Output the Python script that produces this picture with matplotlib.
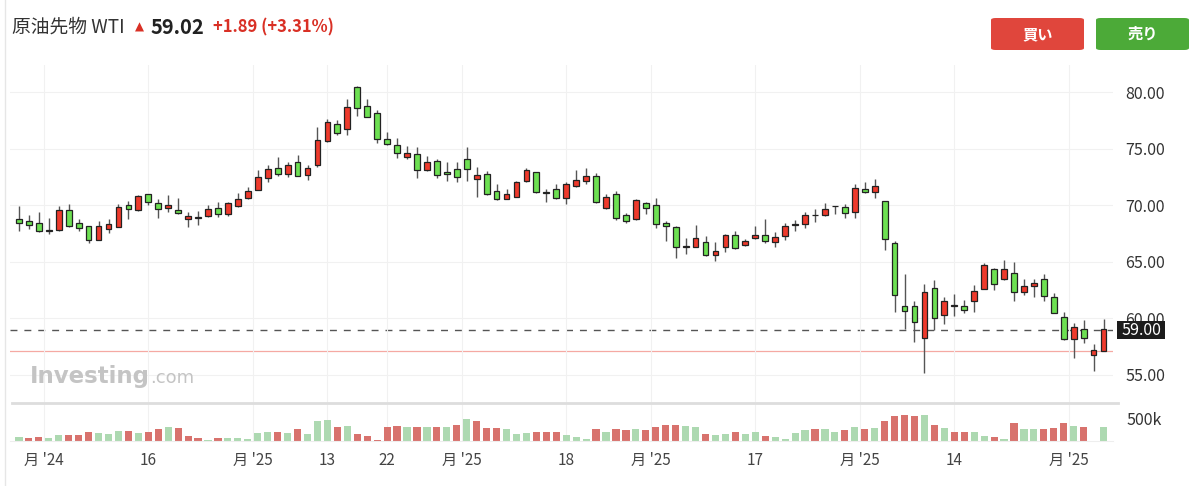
import numpy as np
import matplotlib
matplotlib.use("Agg")
import matplotlib.pyplot as plt
from matplotlib.patches import FancyBboxPatch, Rectangle

plt.rcParams['font.family'] = ['Noto Sans CJK JP', 'DejaVu Sans']

#=== Daten (Tageskerzen WTI) ===
opens = [68.76, 68.58, 68.46, 67.80, 67.82, 69.59, 68.44, 68.14, 66.93, 67.90,
         68.11, 70.00, 69.59, 71.03, 70.18, 69.73, 69.59, 68.79, 68.90, 69.03,
         69.79, 69.20, 69.94, 70.65, 71.39, 72.45, 73.27, 72.74, 73.80, 72.65,
         73.56, 75.66, 77.22, 76.78, 80.44, 78.75, 78.16, 75.86, 75.33, 74.30,
         74.51, 73.15, 73.95, 72.97, 73.18, 74.12, 72.32, 72.77, 71.23, 70.58,
         70.76, 72.15, 72.97, 71.12, 71.47, 70.67, 71.73, 72.15, 72.59, 69.73,
         70.97, 69.17, 68.76, 70.23, 70.00, 68.43, 68.11, 66.32, 66.34, 66.78,
         65.60, 66.34, 67.37, 66.46, 67.08, 67.37, 66.75, 67.28, 68.30, 68.32,
         69.13, 69.14, 69.92, 69.88, 69.44, 71.41, 71.21, 70.38, 66.63, 61.09,
         61.06, 58.28, 62.71, 60.26, 61.10, 61.09, 61.56, 62.62, 64.33, 63.44,
         63.98, 62.29, 62.85, 63.50, 61.91, 60.14, 58.16, 59.02, 56.72, 57.13]
highs = [69.94, 69.11, 69.41, 68.88, 69.94, 70.12, 68.76, 68.14, 68.64, 68.76,
         70.12, 70.35, 70.94, 71.03, 70.53, 70.88, 70.65, 69.41, 69.50, 70.00,
         70.32, 70.32, 71.06, 71.59, 73.13, 73.57, 74.25, 73.83, 74.42, 73.59,
         76.90, 77.63, 77.52, 79.40, 80.55, 79.40, 78.46, 76.51, 75.98, 75.27,
         75.16, 74.33, 74.12, 73.80, 73.80, 75.16, 73.36, 73.00, 71.85, 71.47,
         72.18, 73.30, 72.97, 71.47, 71.85, 72.03, 73.12, 73.30, 72.83, 71.00,
         71.27, 69.29, 70.53, 70.32, 70.65, 68.61, 68.17, 67.08, 68.26, 67.28,
         66.78, 67.46, 67.76, 66.99, 68.14, 68.76, 67.64, 68.43, 68.70, 69.41,
         69.64, 70.23, 69.97, 70.09, 71.86, 72.03, 72.30, 70.38, 66.87, 63.89,
         61.53, 63.00, 63.36, 61.88, 62.15, 61.59, 62.95, 64.92, 64.42, 65.16,
         64.98, 63.44, 63.44, 63.92, 62.21, 60.52, 59.61, 59.87, 57.72, 59.90]
lows = [67.76, 67.87, 67.64, 67.46, 67.76, 68.11, 67.76, 66.69, 66.93, 67.58,
        68.11, 68.82, 69.53, 70.00, 68.88, 69.41, 69.23, 68.11, 68.26, 68.94,
        69.00, 69.08, 69.82, 70.59, 71.33, 72.06, 72.62, 72.51, 72.56, 72.24,
        73.36, 75.60, 76.25, 76.22, 77.90, 77.78, 75.51, 75.36, 74.15, 74.06,
        72.38, 73.06, 72.38, 72.12, 72.03, 72.12, 70.76, 70.94, 70.47, 70.52,
        70.70, 72.06, 71.11, 70.26, 70.58, 70.14, 71.65, 71.88, 70.23, 69.67,
        68.70, 68.41, 68.70, 69.23, 68.02, 66.84, 65.31, 65.69, 66.28, 65.51,
        65.10, 65.90, 66.10, 66.37, 66.99, 66.64, 66.34, 66.93, 67.76, 67.96,
        68.55, 69.05, 69.23, 68.91, 68.91, 71.12, 70.68, 66.01, 60.53, 59.02,
        57.93, 55.13, 58.96, 59.49, 60.20, 60.44, 60.53, 62.56, 62.50, 63.39,
        61.56, 62.09, 61.91, 61.56, 60.43, 58.08, 56.51, 57.84, 55.36, 57.13]
closes = [68.41, 68.29, 67.70, 67.76, 69.59, 68.20, 67.99, 66.93, 68.14, 68.35,
          69.88, 69.64, 70.82, 70.26, 69.64, 70.00, 69.32, 69.08, 68.92, 69.67,
          69.20, 70.21, 70.53, 71.24, 72.48, 73.21, 72.80, 73.60, 72.62, 73.30,
          75.78, 77.34, 76.37, 78.67, 78.64, 77.84, 75.86, 75.45, 74.62, 74.66,
          73.15, 73.80, 72.65, 72.77, 72.53, 73.18, 72.65, 71.00, 70.58, 71.00,
          72.06, 73.12, 71.17, 71.10, 70.67, 71.85, 72.26, 72.56, 70.32, 70.71,
          68.91, 68.61, 70.44, 69.73, 68.32, 68.20, 66.34, 66.36, 67.08, 65.60,
          65.96, 67.37, 66.19, 66.87, 67.40, 66.87, 67.20, 68.20, 68.32, 69.14,
          69.10, 69.64, 69.95, 69.35, 71.53, 71.21, 71.74, 66.99, 62.03, 60.64,
          59.64, 62.36, 60.00, 61.50, 61.14, 60.76, 62.44, 64.71, 63.03, 64.33,
          62.29, 62.85, 63.09, 62.00, 60.49, 58.16, 59.20, 58.28, 57.19, 59.02]
# Volumen in Tausend
volumen = [98, 75, 98, 75, 128, 128, 128, 210, 180, 150,
           233, 233, 180, 210, 263, 308, 285, 105, 75, 23,
           75, 75, 75, 45, 180, 210, 210, 180, 263, 150,
           443, 473, 308, 338, 158, 105, 30, 308, 338, 308,
           308, 308, 308, 308, 360, 495, 443, 285, 285, 263,
           150, 180, 210, 210, 210, 135, 83, 38, 270, 210,
           270, 240, 270, 240, 315, 368, 368, 338, 315, 158,
           135, 158, 210, 158, 210, 105, 83, 38, 180, 240,
           263, 263, 210, 240, 315, 263, 293, 450, 548, 578,
           548, 570, 368, 285, 210, 210, 210, 105, 83, 38,
           398, 263, 263, 263, 293, 398, 345, 315, 0, 315]

tick_pos = [2.5, 13, 23.5, 31, 37, 44.5, 55, 63.5, 74, 84.5, 94, 105.5]
tick_labels = ["月 '24", "16", "月 '25", "13", "22", "月 '25", "18",
               "月 '25", "17", "月 '25", "14", "月 '25"]
preis_ticks = [55, 60, 65, 70, 75, 80]

titel = "原油先物 WTI"
kurs = "59.02"
aenderung = "+1.89 (+3.31%)"
aktuell = 59.00
vortag = 57.13

#=== Figur ===
W, H = 1200, 486
fig = plt.figure(figsize=(W / 100, H / 100), dpi=100)
fig.patch.set_facecolor("white")

def rect(x0, y0, x1, y1):
    return [x0 / W, 1 - y1 / H, (x1 - x0) / W, (y1 - y0) / H]

ax = fig.add_axes(rect(10, 65, 1113, 403))
axv = fig.add_axes(rect(10, 404, 1113, 441), sharex=ax)

n = len(closes)
x = np.arange(n)
o = np.array(opens); c = np.array(closes)
hi = np.array(highs); lo = np.array(lows)

rot = "#ee3a2c"
gruen = "#6de052"
farben = np.where(c >= o, rot, gruen)

ax.vlines(x, lo, hi, color="#555555", lw=1.0, zorder=2)
koerper = np.maximum(np.abs(c - o), 0.04)
ax.bar(x, koerper, bottom=np.minimum(o, c), width=0.58, color=farben,
       edgecolor="#222222", linewidth=0.9, zorder=3)

ax.axhline(aktuell, color="#555555", lw=1.0, ls=(0, (5, 5)), zorder=1)
ax.axhline(vortag, color="#f5a9a3", lw=0.9, zorder=1)

ax.set_xlim(-0.9, 109.95)
ax.set_ylim(52.5, 82.42)
ax.set_yticks(preis_ticks)
ax.set_yticklabels([f"{p:.2f}" for p in preis_ticks])
ax.yaxis.tick_right()
ax.tick_params(axis="y", length=0, pad=9, labelsize=11.5, labelcolor="#333333")
ax.tick_params(axis="x", length=0, labelbottom=False)
ax.set_xticks(tick_pos)
ax.grid(True, color="#f1f1f1", lw=0.8, zorder=0)
for s in ax.spines.values():
    s.set_visible(False)

# Volumen: Farbe nach Schlusskurs gegenueber Vortag
vol_farben = ["#add9b1"]
for i in range(1, n):
    vol_farben.append("#add9b1" if closes[i] >= closes[i - 1] else "#d8726d")
axv.bar(x, volumen, width=0.72, color=vol_farben, zorder=2)
axv.set_ylim(0, 826)
axv.set_yticks([500])
axv.set_yticklabels(["500k"])
axv.yaxis.tick_right()
axv.tick_params(axis="y", length=0, pad=10, labelsize=11.5, labelcolor="#333333")
axv.set_xticks(tick_pos)
axv.set_xticklabels(tick_labels)
axv.tick_params(axis="x", length=0, pad=8, labelsize=11, labelcolor="#444444")
axv.grid(True, axis="x", color="#f1f1f1", lw=0.8, zorder=0)
for s in axv.spines.values():
    s.set_visible(False)
axv.spines["bottom"].set_visible(True)
axv.spines["bottom"].set_color("#eeeeee")

# Trennlinie zwischen Preis und Volumen
fig.add_artist(plt.Line2D([12 / W, 1118 / W], [1 - 403 / H, 1 - 403 / H],
                          color="#dddddd", lw=2.0))
# linker Rand
fig.add_artist(plt.Line2D([4.5 / W, 4.5 / W], [0, 1], color="#e6e6e6", lw=1.0))

# aktueller Kurs Label
fig.add_artist(Rectangle((1117 / W, 1 - 339 / H), 48 / W, 18 / H,
                         facecolor="#1c1c1c", edgecolor="none"))
fig.text(1141 / W, 1 - 330 / H, f"{aktuell:.2f}", color="white", fontsize=11.5,
         ha="center", va="center")

# Wasserzeichen
fig.text(30 / W, 1 - 376 / H, "Investing", color="#c4c4c4", fontsize=16.5,
         fontweight="bold", family="DejaVu Sans", va="center")
fig.text(150 / W, 1 - 378 / H, ".com", color="#c4c4c4", fontsize=13,
         family="DejaVu Sans", va="center")

#=== Kopfzeile ===
fig.text(12 / W, 1 - 27 / H, titel, fontsize=13.5, color="#333333", va="center")
fig.text(135 / W, 1 - 27 / H, "▲", fontsize=8.5, color="#d93025", va="center",
         family="DejaVu Sans")
fig.text(151 / W, 1 - 27 / H, kurs, fontsize=14.5, fontweight="bold",
         color="#222222", va="center")
fig.text(213 / W, 1 - 27 / H, aenderung, fontsize=12, fontweight="bold",
         color="#d93025", va="center")

for (x0, farbe, txt) in [(991, "#e0463c", "買い"), (1096, "#4caa38", "売り")]:
    fig.add_artist(FancyBboxPatch((x0 / W, 1 - 50 / H), 93 / W, 32 / H,
                                  boxstyle="round,pad=0,rounding_size=0.004",
                                  facecolor=farbe, edgecolor="none"))
    fig.text((x0 + 46.5) / W, 1 - 34 / H, txt, fontsize=11, fontweight="bold",
             color="white", ha="center", va="center")

fig.savefig("out.png", dpi=100)
